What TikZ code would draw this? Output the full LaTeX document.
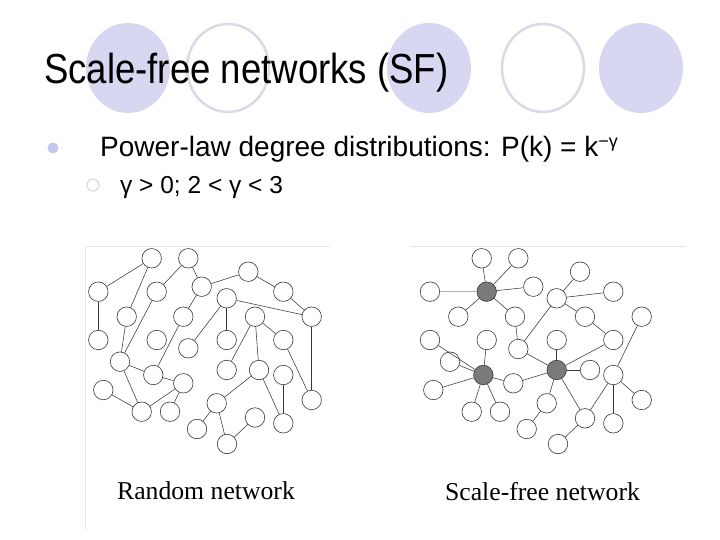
\documentclass[tikz,border=0pt]{standalone}
\usepackage{fontspec}
\setmainfont{Liberation Sans}
\newfontfamily\netserif{Liberation Serif}
\usepackage{xcolor}
\usepackage{tikz}
\usetikzlibrary{positioning}
\definecolor{slidelav}{HTML}{D7D7F1}
\definecolor{slidering}{HTML}{DADAE6}
\definecolor{bulletlav}{HTML}{C6C6EE}
\definecolor{netline}{HTML}{383838}
\definecolor{hubgray}{HTML}{7A7A7A}
\definecolor{framegray}{HTML}{E6E6EE}

\begin{document}
\begin{tikzpicture}[
    x=1pt, y=-1pt,
    vertex/.style={circle, draw=netline, line width=0.6pt, fill=white, minimum size=19.5pt, inner sep=0pt},
    hub/.style={vertex, fill=hubgray},
    link/.style={draw=netline, line width=0.55pt},
    slidetext/.style={anchor=base west, inner sep=0pt},
]
    \fill[white] (0,0) rectangle (720,540);
    \useasboundingbox (0,0) rectangle (720,540);

    \fill[slidelav] (128,68) ellipse [x radius=42pt, y radius=45pt];
    \draw[slidering, line width=2.5pt] (228,68) ellipse [x radius=41pt, y radius=44pt];
    \fill[slidelav] (429,68) ellipse [x radius=42pt, y radius=45pt];
    \draw[slidering, line width=2.5pt] (543,68) ellipse [x radius=41pt, y radius=44pt];
    \fill[slidelav] (641,68) ellipse [x radius=42pt, y radius=45pt];

    \node[slidetext, font=\fontsize{42}{46}\selectfont] (title) at (44,84)
        {\scalebox{0.87}[1]{Scale-free networks (SF)}};

    \node[circle, fill=bulletlav, minimum size=11pt, inner sep=0pt] (dot) at (53,148) {};
    \node[slidetext, font=\fontsize{28}{30}\selectfont] (law) at (100,157)
        {Power-law degree distributions: P(k) = k\raisebox{9pt}{\fontsize{18}{18}\selectfont −γ}};
    \node[circle, draw=slidering, line width=1.2pt, minimum size=12pt, inner sep=0pt] (ring) at (93,185) {};
    \node[slidetext, font=\fontsize{24.5}{26}\selectfont] (range) at (120,194) {γ > 0; 2 < γ < 3};

    \draw[framegray, line width=1pt] (85,246) -- (85,530);
    \draw[framegray, line width=1pt] (85,246) -- (330,246);
    \draw[framegray, line width=1pt] (410,246) -- (686,246);

    \foreach \n/\x/\y in {r1/151.7/258.3, r2/188.3/258.3, r3/98.3/291.7, r4/156.7/291.7,
        r5/201.7/286.7, r6/248.3/271.7, r7/283.3/291.7, r8/226.7/298.3, r9/126.7/316.7,
        r10/183.3/316.7, r11/255/316.7, r12/311.7/316.7, r13/98.3/340, r14/156.7/340,
        r15/226.7/340, r16/283.3/340, r17/188.3/348.3, r18/120/361.7, r19/226.7/370,
        r20/259/370, r21/153.3/375, r22/283.3/375, r23/183.3/383.3, r24/103.3/390,
        r25/311.7/400, r26/141.7/411.7, r27/170/411.7, r28/216.7/403.3, r29/255/417.5,
        r30/283.3/423.3, r31/197/429, r32/227/444}
        \node[vertex] (\n) at (\x,\y) {};

    \foreach \a/\b in {r1/r3, r3/r13, r1/r9, r9/r18, r2/r4, r2/r5, r4/r18, r5/r10,
        r10/r21, r5/r6, r6/r7, r7/r12, r8/r12, r8/r15, r8/r17, r11/r16, r11/r19,
        r11/r20, r12/r25, r16/r25, r20/r28, r20/r30, r22/r30, r28/r31, r28/r32,
        r29/r32, r18/r21, r18/r26, r21/r23, r23/r26, r23/r27, r24/r26}
        \draw[link] (\a) -- (\b);

    \foreach \n/\x/\y in {s1/481.7/258.3, s2/518.3/258.3, s3/430/291.7, s4/533.3/286.7,
        s5/580/271.7, s6/556.7/298.3, s7/613.3/291.7, s8/458.3/316.7, s9/515/316.7,
        s10/585/316.7, s11/641.7/316.7, s12/430/340, s13/486.7/340, s14/556.7/340,
        s15/613.3/340, s16/518.3/349, s17/450/361.7, s18/590/370, s19/613.3/375,
        s20/433.3/390, s21/513.3/383.3, s22/641.7/400, s23/471.7/411.7, s24/500/411.7,
        s25/546.7/403.3, s26/585/418.3, s27/613.3/423.3, s28/526.7/429, s29/558/444}
        \node[vertex] (\n) at (\x,\y) {};
    \node[hub] (h1) at (486.7,291.7) {};
    \node[hub] (h2) at (483.3,375) {};
    \node[hub] (h3) at (556.7,370) {};

    \foreach \a/\b in {h1/s1, h1/s2, h1/s4, h1/s8, h1/s9, s9/s16, s6/s16, s6/s5,
        s6/s7, s6/s10, s10/s15, s16/h3, s14/h3, h3/s15, h3/s18, h3/s21, h3/s25,
        h3/s26, s11/s19, s19/s22, s19/s26, s19/s27, s26/s29, s25/s28, h2/s12,
        h2/s13, h2/s17, h2/s20, h2/s21, h2/s23, h2/s24}
        \draw[link] (\a) -- (\b);
    \draw[link, draw=netline!40] (h1) -- (s3);

    \node[anchor=base, inner sep=0pt, font=\netserif\fontsize{25.7}{27}\selectfont] (randlab) at (206,499) {Random network};
    \node[anchor=base, inner sep=0pt, font=\netserif\fontsize{25.7}{27}\selectfont] (sflab) at (542.5,500) {Scale-free network};
\end{tikzpicture}
\end{document}
